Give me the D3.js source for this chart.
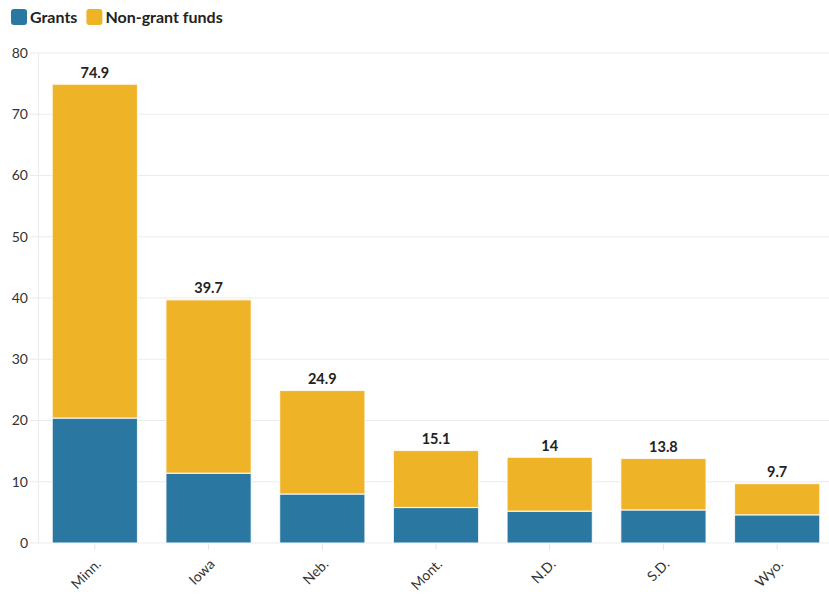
<!DOCTYPE html>
<html><head><meta charset="utf-8">
<script src="https://cdn.jsdelivr.net/npm/d3@7"></script>
<style>
body{margin:0;background:#fff;font-family:"Source Sans Pro",Lato,"Open Sans",sans-serif;}
</style></head><body>
<svg id="c" width="829" height="607"></svg>
<script>
const categories = ["Minn.","Iowa","Neb.","Mont.","N.D.","S.D.","Wyo."];
const grants = [20.4, 11.4, 8.0, 5.8, 5.2, 5.4, 4.6];
const nonGrant = [54.5, 28.3, 16.9, 9.3, 8.8, 8.4, 5.1];
const totals = [74.9, 39.7, 24.9, 15.1, 14, 13.8, 9.7];
const seriesNames = ["Grants","Non-grant funds"];
const colors = ["#2a78a1","#eeb327"];
const yTicks = [0,10,20,30,40,50,60,70,80];

const svg = d3.select("#c");
const x = d3.scaleBand().domain(categories).range([38, 834]).paddingInner(0.25).paddingOuter(0.125);
const y = d3.scaleLinear().domain([0,80]).range([543, 53]);

// gridlines
svg.append("g").selectAll("line").data(yTicks).join("line")
  .attr("x1",30).attr("x2",829).attr("y1",d=>y(d)).attr("y2",d=>y(d))
  .attr("stroke","#ebebeb").attr("stroke-width",1);
svg.append("line").attr("x1",38.5).attr("x2",38.5).attr("y1",y(80)).attr("y2",y(0)).attr("stroke","#ebebeb");

// y labels
const ya = svg.append("g").attr("transform","translate(28,0)")
  .call(d3.axisLeft(y).tickValues(yTicks).tickSize(0).tickPadding(0));
ya.select(".domain").remove();
ya.selectAll("text").attr("font-family","'Source Sans Pro',Lato,sans-serif").attr("font-size",14).attr("fill","#333");

// x axis
const xa = svg.append("g").attr("transform","translate(0,543)")
  .call(d3.axisBottom(x).tickSize(7).tickPadding(6));
xa.select(".domain").remove();
xa.selectAll(".tick line").attr("stroke","#e6e6e6");
xa.selectAll("text").attr("font-family","'Source Sans Pro',Lato,sans-serif").attr("font-size",14).attr("fill","#333")
  .attr("text-anchor","end").attr("x",0).attr("y",0).attr("dy",0)
  .attr("transform","translate(7,22) rotate(-45)");

// stacked bars
const stackData = categories.map((c,i)=>({cat:c, g:grants[i], n:nonGrant[i]}));
const stack = d3.stack().keys(["g","n"])(stackData);
svg.append("g").selectAll("g").data(stack).join("g")
  .attr("fill",(d,i)=>colors[i])
  .selectAll("rect").data(d=>d).join("rect")
  .attr("x",d=>x(d.data.cat)).attr("width",x.bandwidth())
  .attr("y",d=>y(d[1])).attr("height",d=>y(d[0])-y(d[1]))
  .attr("stroke","#fff").attr("stroke-width",1.2).attr("stroke-opacity",0.8);

// totals
svg.append("g").selectAll("text").data(categories).join("text")
  .attr("x",d=>x(d)+x.bandwidth()/2).attr("y",(d,i)=>y(totals[i])-6.5)
  .attr("text-anchor","middle").attr("font-weight","bold").attr("font-size",14.5)
  .attr("fill","#222").text((d,i)=>totals[i]);

// legend
const lg = svg.append("g");
let lx = 11;
seriesNames.forEach((s,i)=>{
  lg.append("rect").attr("x",lx).attr("y",9).attr("width",16).attr("height",16).attr("rx",3).attr("fill",colors[i]);
  const t = lg.append("text").attr("x",lx+19).attr("y",22.5).attr("font-weight","bold").attr("font-size",16).attr("fill","#222").text(s);
  lx += 19 + t.node().getComputedTextLength() + 9;
});
</script>
</body></html>
